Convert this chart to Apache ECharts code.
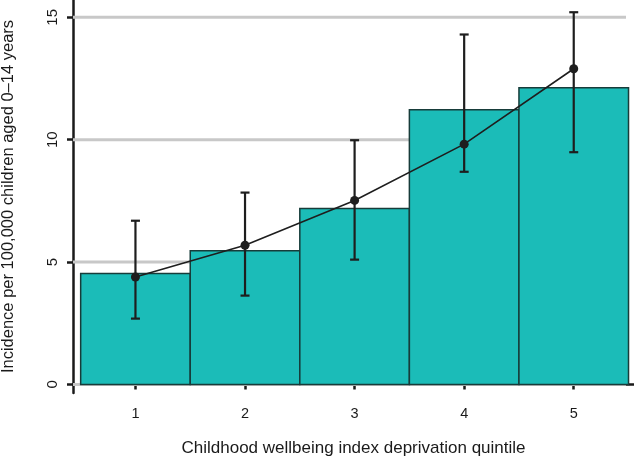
<!DOCTYPE html>
<html><head><meta charset="utf-8">
<script src="https://cdn.jsdelivr.net/npm/echarts@6/dist/echarts.min.js"></script>
<style>html,body{margin:0;padding:0;background:#fff}#c{width:634px;height:459px}</style>
</head><body><div id="c"></div>
<script>
const quintiles = [1, 2, 3, 4, 5];
const barValues = [4.53, 5.46, 7.19, 11.23, 12.12];
const pointValues = [4.39, 5.69, 7.52, 9.82, 12.90];
const errLow = [2.69, 3.63, 5.10, 8.69, 9.49];
const errHigh = [6.69, 7.84, 9.98, 14.30, 15.21];
const yTicks = [0, 5, 10, 15];
const xLabel = 'Childhood wellbeing index deprivation quintile';
const yLabel = 'Incidence per 100,000 children aged 0\u201314 years';

const chart = echarts.init(document.getElementById('c'));
const font = '"Liberation Sans", Arial, sans-serif';
chart.setOption({
  animation: false,
  grid: {left: 73, right: 0, top: 0, bottom: 66, outerBoundsMode: 'none', containLabel: false},
  xAxis: {
    type: 'value', min: 0.43, max: 5.55,
    axisLine: {show: true, lineStyle: {color: '#1a1a1a', width: 2.5}},
    axisTick: {show: true, customValues: quintiles, length: 5, lineStyle: {color: '#1a1a1a', width: 2.5}},
    axisLabel: {customValues: quintiles, color: '#1a1a1a', fontSize: 14.5, fontFamily: font, margin: 13},
    splitLine: {show: false},
    name: xLabel, nameLocation: 'middle', nameGap: 47,
    nameTextStyle: {color: '#1a1a1a', fontSize: 17, fontFamily: font}
  },
  yAxis: {
    type: 'value', min: -0.35, max: 15.71,
    axisLine: {show: true, lineStyle: {color: '#1a1a1a', width: 2.5}},
    axisTick: {show: true, customValues: yTicks, length: 6, lineStyle: {color: '#1a1a1a', width: 2.5}},
    axisLabel: {customValues: yTicks, rotate: 90, color: '#1a1a1a', fontSize: 15, fontFamily: font, margin: 13},
    splitLine: {show: false},
    name: yLabel, nameLocation: 'middle', nameGap: 56,
    nameTextStyle: {color: '#1a1a1a', fontSize: 16.5, fontFamily: font}
  },
  series: [
    {
      type: 'custom', z: 1, silent: true,
      data: yTicks.map(v => [v]),
      renderItem: function (params, api) {
        const v = api.value(0);
        const p1 = api.coord([0.43, v]);
        const p2 = api.coord([5.477, v]);
        return {type: 'line', shape: {x1: p1[0], y1: p1[1], x2: p2[0], y2: p2[1]},
          style: {stroke: '#c8c8c8', lineWidth: 3}};
      }
    },
    {
      type: 'custom', z: 2, silent: true,
      data: quintiles.map((q, i) => [q, barValues[i]]),
      renderItem: function (params, api) {
        const q = api.value(0), v = api.value(1);
        const a = api.coord([q - 0.5, v]);
        const b = api.coord([q + 0.5, 0]);
        return {type: 'rect', shape: {x: a[0], y: a[1], width: b[0] - a[0], height: b[1] - a[1]},
          style: {fill: '#1bbcb8', stroke: '#173c3a', lineWidth: 1.5}};
      }
    },
    {
      type: 'custom', z: 3, silent: true,
      data: quintiles.map((q, i) => [q, errLow[i], errHigh[i]]),
      renderItem: function (params, api) {
        const q = api.value(0);
        const lo = api.coord([q, api.value(1)]);
        const hi = api.coord([q, api.value(2)]);
        const w = 4.5;
        const st = {stroke: '#1e1e1e', lineWidth: 2.2};
        return {type: 'group', children: [
          {type: 'line', shape: {x1: lo[0], y1: lo[1], x2: hi[0], y2: hi[1]}, style: st},
          {type: 'line', shape: {x1: lo[0] - w, y1: lo[1], x2: lo[0] + w, y2: lo[1]}, style: st},
          {type: 'line', shape: {x1: hi[0] - w, y1: hi[1], x2: hi[0] + w, y2: hi[1]}, style: st}
        ]};
      }
    },
    {
      type: 'line', z: 4, silent: true,
      data: quintiles.map((q, i) => [q, pointValues[i]]),
      symbol: 'circle', symbolSize: 9,
      lineStyle: {color: '#1e1e1e', width: 1.6},
      itemStyle: {color: '#1e1e1e'}
    }
  ]
});
</script></body></html>
